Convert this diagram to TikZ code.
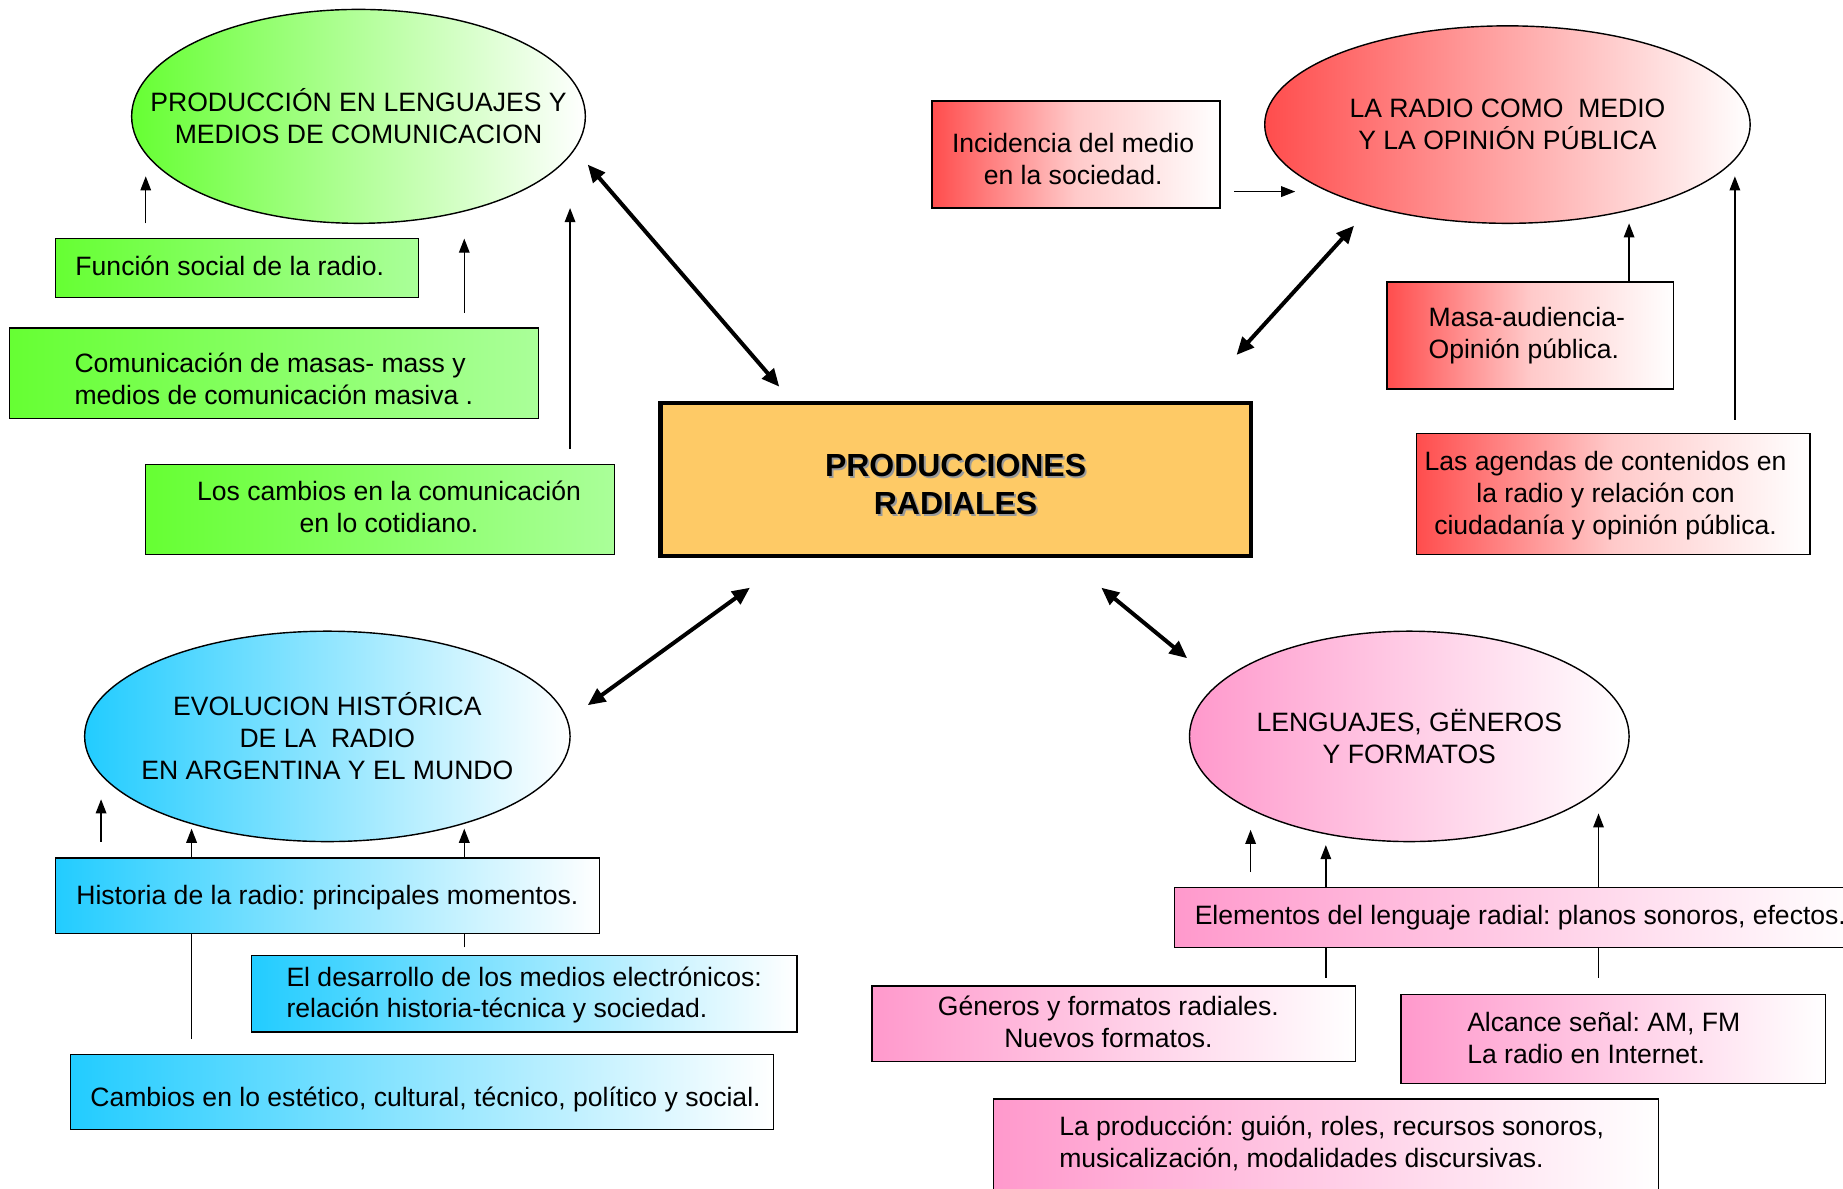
\documentclass[tikz,border=0pt]{standalone}
\usepackage{fontspec}
\setmainfont{Liberation Sans}
\usetikzlibrary{shapes.geometric,arrows.meta,backgrounds}
\definecolor{gL}{HTML}{66FF33}
\definecolor{gR}{HTML}{AAFF99}
\definecolor{rL}{HTML}{FF4D4D}
\definecolor{bL}{HTML}{22CCFF}
\definecolor{pL}{HTML}{FF99CC}
\definecolor{oF}{HTML}{FECA66}
\newcommand{\shtext}[1]{\makebox[0pt][l]{\hspace{0.8pt}\raisebox{-0.8pt}{\textcolor{black!40}{#1}}}#1}
\begin{document}
\frenchspacing
\begin{tikzpicture}[x=0.5pt,y=-0.5pt,
  every node/.style={font=\fontsize{11.3}{13.6}\selectfont, inner sep=0pt},
  box/.style={draw, line width=0.6pt, rectangle},
  oval/.style={draw, line width=0.6pt, ellipse, inner sep=0pt},
  gbox/.style={box, left color=gL, right color=gR},
  rbox/.style={box, left color=rL, right color=white, middle color=rL!30!white},
  bbox/.style={box, left color=bL, right color=white},
  pbox/.style={box, left color=pL, right color=white},
  thinarrow/.style={line width=0.6pt, -{Triangle[length=6pt,width=4.5pt]}},
  thickarrow/.style={line width=1.7pt, {Triangle[length=7.5pt,width=6.5pt]}-{Triangle[length=7.5pt,width=6.5pt]}},
]
\useasboundingbox (0,0) rectangle (1568,1011);

% ---------- central ----------
\node[draw, line width=1.8pt, fill=oF, minimum width=251pt, minimum height=65pt,
      label={[align=center, yshift=-2.5pt, font=\fontsize{13.6}{16.2}\selectfont\bfseries]center:\shtext{PRODUCCIONES}\\\shtext{RADIALES}}] (cen) at (813,408) {};

% ---------- green ----------
\node[oval, left color=gL, right color=white, minimum width=193pt, minimum height=91pt,
      label={[align=center]center:PRODUCCIÓN EN LENGUAJES Y\\MEDIOS DE COMUNICACION}] (gE) at (305,99) {};
\node[gbox, minimum width=154.5pt, minimum height=25pt,
      label={[align=left, xshift=-3pt, yshift=1pt]center:Función social de la radio.}] (fsoc) at (201.5,228) {};
\node[gbox, minimum width=225pt, minimum height=38.5pt,
      label={[align=left, yshift=-2.5pt]center:Comunicación de masas- mass y\\medios de comunicación masiva .}] (cmas) at (233,317.5) {};
\node[gbox, minimum width=199.5pt, minimum height=38.5pt,
      label={[align=center, xshift=3.75pt, yshift=1pt]center:Los cambios en la comunicación\\en lo cotidiano.}] (lcam) at (323.5,433.5) {};

% ---------- red ----------
\node[oval, left color=rL, right color=white, minimum width=206.5pt, minimum height=84pt,
      label={[align=center]center:LA RADIO COMO\ \ MEDIO\\ Y LA OPINIÓN PÚBLICA}] (rE) at (1282.5,106) {};
\node[rbox, minimum width=122.5pt, minimum height=45.5pt,
      label={[align=center, xshift=-1.25pt, yshift=-2pt]center:Incidencia del medio\\en la sociedad.}] (inc) at (915.5,131.5) {};
\node[rbox, minimum width=122pt, minimum height=45.5pt,
      label={[align=left, xshift=-1.5pt]center:Masa-audiencia-\\Opinión pública.}] (masa) at (1302,285.5) {};
\node[rbox, minimum width=167.5pt, minimum height=51.5pt,
      label={[align=center, xshift=-3.25pt, yshift=-0.5pt]center:Las agendas de contenidos en\\la radio y relación con\\ciudadanía y opinión pública.}] (agen) at (1372.5,420.5) {};

% ---------- blue ----------
\node[oval, left color=bL, right color=white, minimum width=206.5pt, minimum height=89.5pt,
      label={[align=center]center:EVOLUCION HISTÓRICA\\DE LA\ \ RADIO\\EN ARGENTINA Y EL MUNDO}] (bE) at (278.5,626.5) {};
\node[bbox, minimum width=231.5pt, minimum height=32pt,
      label={[align=left, yshift=-1pt]center:Historia de la radio: principales momentos.}] (hist) at (278.5,762) {};
\node[bbox, minimum width=232pt, minimum height=32.5pt,
      label={[align=left, yshift=-0.5pt]center:El desarrollo de los medios electrónicos:\\relación historia-técnica y sociedad.}] (desa) at (446,845.5) {};
\node[bbox, minimum width=299pt, minimum height=32pt,
      label={[align=left, xshift=1.5pt, yshift=-3pt]center:Cambios en lo estético, cultural, técnico, político y social.}] (camb) at (359,929) {};

% ---------- pink ----------
\node[oval, left color=pL, right color=white, minimum width=187pt, minimum height=89.5pt,
      label={[align=center]center:LENGUAJES, GËNEROS\\Y FORMATOS}] (pE) at (1199,626.5) {};
\node[pbox, minimum width=291.5pt, minimum height=25.5pt,
      label={[align=left, xshift=1.5pt]center:Elementos del lenguaje radial: planos sonoros, efectos.}] (elem) at (1290.5,780.5) {};
\node[pbox, minimum width=205.5pt, minimum height=32pt,
      label={[align=center, xshift=-2.25pt, yshift=1pt]center:Géneros y formatos radiales.\\Nuevos formatos.}] (gen) at (947.5,871) {};
\node[pbox, minimum width=180.5pt, minimum height=38pt,
      label={[align=left, xshift=-4pt, yshift=0.5pt]center:Alcance señal: AM, FM\\La radio en Internet.}] (alc) at (1372.5,884) {};
\node[pbox, minimum width=283pt, minimum height=40pt,
      label={[align=left, xshift=2.5pt, yshift=1pt]center:La producción: guión, roles, recursos sonoros,\\musicalización, modalidades discursivas.}] (prod) at (1128,975) {};

% ---------- free ends ----------
\coordinate (t1a) at (500,140);  \coordinate (t1b) at (663,329);
\coordinate (t2a) at (1152,192); \coordinate (t2b) at (1052,302);
\coordinate (t3a) at (500,600);  \coordinate (t3b) at (638,500);
\coordinate (t4a) at (937,500);  \coordinate (t4b) at (1010,560);

\coordinate (g1s) at (124,190);  \coordinate (g1e) at (124,150);
\coordinate (g2s) at (395,266);  \coordinate (g2e) at (395,203);
\coordinate (g3s) at (485,382);  \coordinate (g3e) at (485,177);
\coordinate (r1s) at (1050,163); \coordinate (r1e) at (1102,163);
\coordinate (r2s) at (1386,240); \coordinate (r2e) at (1386,190);
\coordinate (r3s) at (1476,357); \coordinate (r3e) at (1476,150);
\coordinate (b1s) at (86,716);   \coordinate (b1e) at (86,680);
\coordinate (b2s) at (163,884);  \coordinate (b2e) at (163,705);
\coordinate (b3s) at (395,806);  \coordinate (b3e) at (395,705);
\coordinate (p1s) at (1064,742); \coordinate (p1e) at (1064,706);
\coordinate (p2s) at (1128,832); \coordinate (p2e) at (1128,719);
\coordinate (p3s) at (1360,832); \coordinate (p3e) at (1360,692);

\begin{pgfonlayer}{background}
\fill[white] (0,0) rectangle (1568,1011);
\draw[thickarrow] (t1a) -- (t1b);
\draw[thickarrow] (t2a) -- (t2b);
\draw[thickarrow] (t3a) -- (t3b);
\draw[thickarrow] (t4a) -- (t4b);
\foreach \a in {g1,g2,g3,r1,r2,r3,b1,b2,b3,p1,p2,p3}
  \draw[thinarrow] (\a s) -- (\a e);
\end{pgfonlayer}
\end{tikzpicture}
\end{document}
